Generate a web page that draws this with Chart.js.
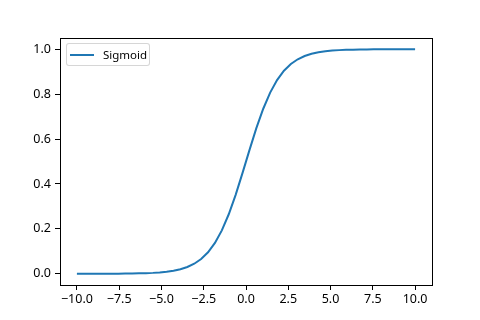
<!DOCTYPE html>
<html>
<head>
<meta charset="utf-8">
<script src="https://cdn.jsdelivr.net/npm/chart.js@4"></script>
<style>
  body { margin: 0; background: #fff; }
  #wrap { position: relative; width: 480px; height: 320px; }
  #legend {
    position: absolute; left: 66px; top: 43px; width: 82px; height: 21px;
    border: 1px solid rgba(204,204,204,0.8); border-radius: 3px;
    background: rgba(255,255,255,0.8);
    font-family: "Noto Sans", sans-serif; font-size: 11.5px; color: #000;
  }
  #legend .swatch { position: absolute; left: 3px; top: 10px; width: 24px; height: 2px; background: #1f77b4; }
  #legend .label { position: absolute; left: 36px; top: 2px; line-height: 17px; }
</style>
</head>
<body>
<div id="wrap">
  <canvas id="chart" width="480" height="320"></canvas>
  <div id="legend"><span class="swatch"></span><span class="label">Sigmoid</span></div>
</div>
<script>
// x samples and sigmoid values
const xs = [-10.0, -9.592, -9.184, -8.776, -8.367, -7.959, -7.551, -7.143, -6.735, -6.327,
  -5.918, -5.510, -5.102, -4.694, -4.286, -3.878, -3.469, -3.061, -2.653, -2.245,
  -1.837, -1.429, -1.020, -0.612, -0.204, 0.204, 0.612, 1.020, 1.429, 1.837,
  2.245, 2.653, 3.061, 3.469, 3.878, 4.286, 4.694, 5.102, 5.510, 5.918,
  6.327, 6.735, 7.143, 7.551, 7.959, 8.367, 8.776, 9.184, 9.592, 10.0]
const ys = [0.00005, 0.00007, 0.0001, 0.00015, 0.00023, 0.00035, 0.00053, 0.00079, 0.0012, 0.0018,
  0.0027, 0.0040, 0.0060, 0.0091, 0.0136, 0.0203, 0.0302, 0.0447, 0.0658, 0.0958,
  0.1374, 0.1933, 0.2650, 0.3516, 0.4492, 0.5508, 0.6484, 0.7350, 0.8067, 0.8626,
  0.9042, 0.9342, 0.9553, 0.9698, 0.9797, 0.9864, 0.9909, 0.9940, 0.9960, 0.9973,
  0.9982, 0.9988, 0.9992, 0.9995, 0.9997, 0.9998, 0.9998, 0.9999, 0.9999, 1.0]
const xTicks = [-10, -7.5, -5, -2.5, 0, 2.5, 5, 7.5, 10]
const yTicks = [0, 0.2, 0.4, 0.6, 0.8, 1.0]
const seriesLabel = 'Sigmoid'

const fmt = (v) => (v < 0 ? '\u2212' : '') + Math.abs(v).toFixed(1)

// matplotlib draws all four spines
const frame = {
  id: 'frame',
  afterDraw(chart) {
    const { ctx, chartArea: a } = chart
    ctx.save()
    ctx.strokeStyle = '#000'
    ctx.lineWidth = 1
    ctx.strokeRect(Math.round(a.left) + 0.5, Math.round(a.top) + 0.5,
      Math.round(a.right - a.left), Math.round(a.bottom - a.top))
    ctx.restore()
  }
}

const font = { family: '"Noto Sans", sans-serif', size: 12.5 }

new Chart(document.getElementById('chart'), {
  type: 'scatter',
  data: {
    datasets: [{
      label: seriesLabel,
      data: xs.map((x, i) => ({ x: x, y: ys[i] })),
      showLine: true,
      borderColor: '#1f77b4',
      borderWidth: 2,
      pointRadius: 0,
      tension: 0
    }]
  },
  options: {
    responsive: false,
    animation: false,
    layout: { padding: { left: 0, right: 48, top: 38, bottom: 0 } },
    plugins: { legend: { display: false }, tooltip: { enabled: false } },
    scales: {
      x: {
        type: 'linear', min: -11, max: 11,
        afterBuildTicks: (s) => { s.ticks = xTicks.map(v => ({ value: v })) },
        afterFit: (s) => { s.height = 35 },
        ticks: { color: '#000', font: font, padding: 2, maxRotation: 0, callback: fmt },
        grid: { drawOnChartArea: false, tickLength: 5, color: '#000' },
        border: { color: '#000' }
      },
      y: {
        type: 'linear', min: -0.05, max: 1.05,
        afterBuildTicks: (s) => { s.ticks = yTicks.map(v => ({ value: v })) },
        afterFit: (s) => { s.width = 60 },
        ticks: { color: '#000', font: font, padding: 4, callback: fmt },
        grid: { drawOnChartArea: false, tickLength: 5, color: '#000' },
        border: { color: '#000' }
      }
    }
  },
  plugins: [frame]
})
</script>
</body>
</html>
